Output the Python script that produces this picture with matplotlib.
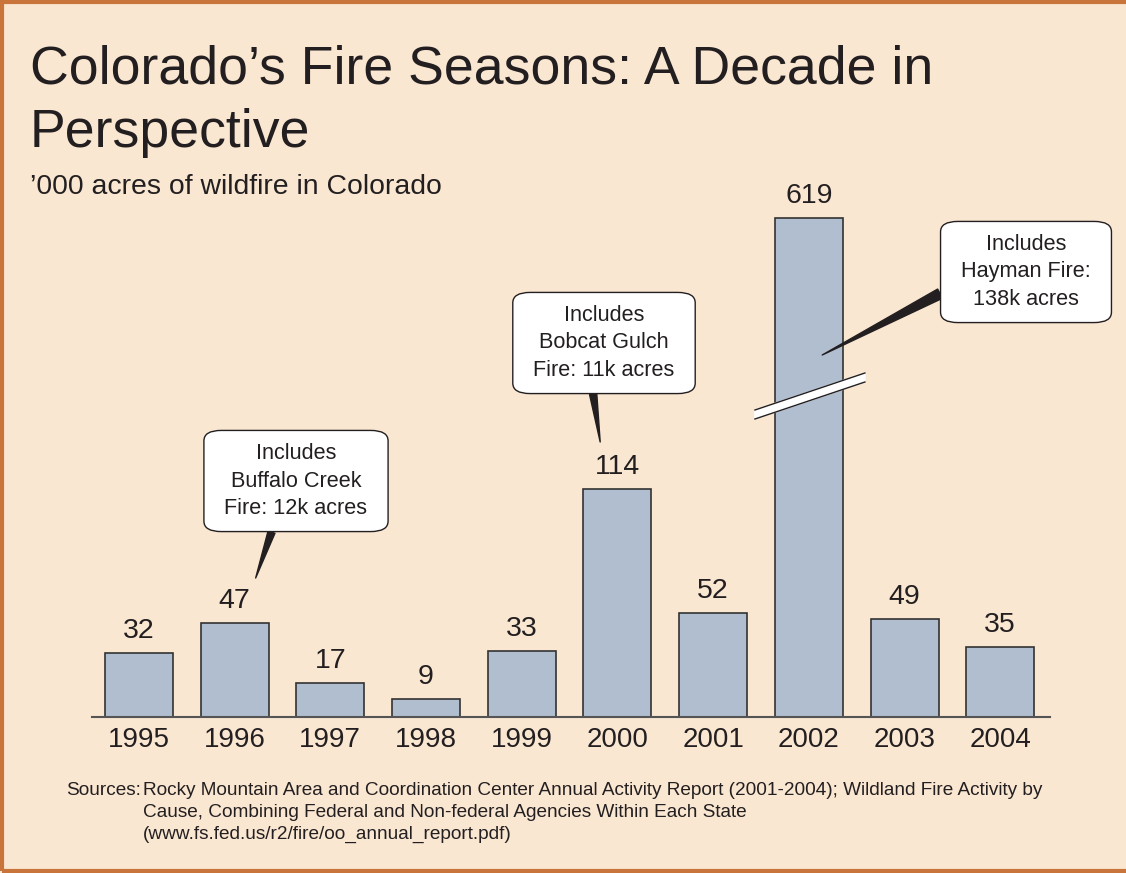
import numpy as np
import matplotlib
matplotlib.use('Agg')
import matplotlib.pyplot as plt
from matplotlib.patches import Rectangle

plt.rcParams['font.family'] = ['Liberation Sans', 'DejaVu Sans']

# data, '000 acres
years = ['1995', '1996', '1997', '1998', '1999', '2000', '2001', '2002', '2003', '2004']
acres = [32, 47, 17, 9, 33, 114, 52, 619, 49, 35]

notes = ['Includes\nBuffalo Creek\nFire: 12k acres',
         'Includes\nBobcat Gulch\nFire: 11k acres',
         'Includes\nHayman Fire:\n138k acres']

source_lines = ['Rocky Mountain Area and Coordination Center Annual Activity Report (2001-2004); Wildland Fire Activity by',
                'Cause, Combining Federal and Non-federal Agencies Within Each State',
                '(www.fs.fed.us/r2/fire/oo_annual_report.pdf)']

bg = '#fae7d2'
ink = '#231f20'
bar_col = '#b0becf'

W, H = 1126, 873
fig = plt.figure(figsize=(W / 100, H / 100), dpi=100, facecolor=bg)

# axis is broken above 200: values above are squeezed
cut = 200.0
k = 49.5 / 419.0
def fwd(y):
    y = np.asarray(y, dtype=float)
    return np.where(y <= cut, y, cut + (y - cut) * k)
def inv(y):
    y = np.asarray(y, dtype=float)
    return np.where(y <= cut, y, cut + (y - cut) / k)

ax_top_px = 150
ax = fig.add_axes([92 / W, (H - 717) / H, (1050 - 92) / W, (717 - ax_top_px) / H])
ax.set_facecolor('none')
ax.set_yscale('function', functions=(fwd, inv))
x = np.arange(len(years))
ax.bar(x, acres, width=0.71, color=bar_col, edgecolor='#333333', linewidth=1.2, zorder=2)
ax.set_xlim(-0.49, 9.52)
ax.set_ylim(0, float(inv((717 - ax_top_px) / 2.0)))

for xi, v in zip(x, acres):
    ax.annotate(str(v), (xi, v), xytext=(0, 11), textcoords='offset points',
                ha='center', va='baseline', fontsize=20.5, color=ink)

ax.set_xticks(x)
ax.set_xticklabels(years, fontsize=20, color=ink)
ax.tick_params(axis='x', length=0, pad=7)
ax.set_yticks([])
for s in ['top', 'left', 'right']:
    ax.spines[s].set_visible(False)
ax.spines['bottom'].set_color('#555555')
ax.spines['bottom'].set_linewidth(1.5)
ax.spines['bottom'].set_zorder(3)

# break marks on the 2002 bar
bx = np.array([6.437, 7.586])
top_edge = np.array([153.5, 172.0])
bot_edge = np.array([149.0, 167.5])
ax.fill(np.r_[bx, bx[::-1]], np.r_[top_edge, bot_edge[::-1]], color='white', zorder=4, clip_on=False)
ax.plot(bx, top_edge, color=ink, lw=1, zorder=5, clip_on=False)
ax.plot(bx, bot_edge, color=ink, lw=1, zorder=5, clip_on=False)

# callouts
box = dict(boxstyle='round,pad=0.95,rounding_size=0.8', fc='white', ec=ink, lw=1, mutation_aspect=0.6)
callouts = [
    (notes[0], (1.22, 69.5), (296, 481), (0.36, 0.0), 0.35),
    (notes[1], (4.82, 137.5), (604, 343), (0.41, 0.0), 0.35),
    (notes[2], (7.14, 181.0), (1026, 272), (0.0, 0.36), 0.5),
]
for txt, tip, c, rel, tw in callouts:
    ax.annotate(txt, tip, xytext=(c[0] / W, 1 - c[1] / H), textcoords='figure fraction',
                ha='center', va='center', fontsize=15.6, color=ink, linespacing=1.42,
                bbox=box, zorder=6,
                arrowprops=dict(arrowstyle='wedge,tail_width=%.2f' % tw, fc=ink, ec=ink,
                                relpos=rel, shrinkA=0, shrinkB=0, mutation_scale=15))

# titles
fig.text(30 / W, 1 - 83 / H, 'Colorado\u2019s Fire Seasons: A Decade in', fontsize=38.6, color=ink)
fig.text(30 / W, 1 - 147 / H, 'Perspective', fontsize=38.6, color=ink)
fig.text(30 / W, 1 - 194 / H, '\u2019000 acres of wildfire in Colorado', fontsize=20.4, color=ink)

fig.text(66 / W, 1 - 795 / H, 'Sources:', fontsize=13.7, color=ink, va='baseline')
for i, line in enumerate(source_lines):
    fig.text(143 / W, 1 - (795 + 22 * i) / H, line, fontsize=13.7, color=ink, va='baseline')

# frame
fig.patches.append(Rectangle((2 / W, 2 / H), 1.1, 1 - 4 / H, transform=fig.transFigure,
                             fill=False, ec='#c8743a', lw=3, figure=fig))

fig.savefig('out.png', dpi=100, facecolor=bg)
